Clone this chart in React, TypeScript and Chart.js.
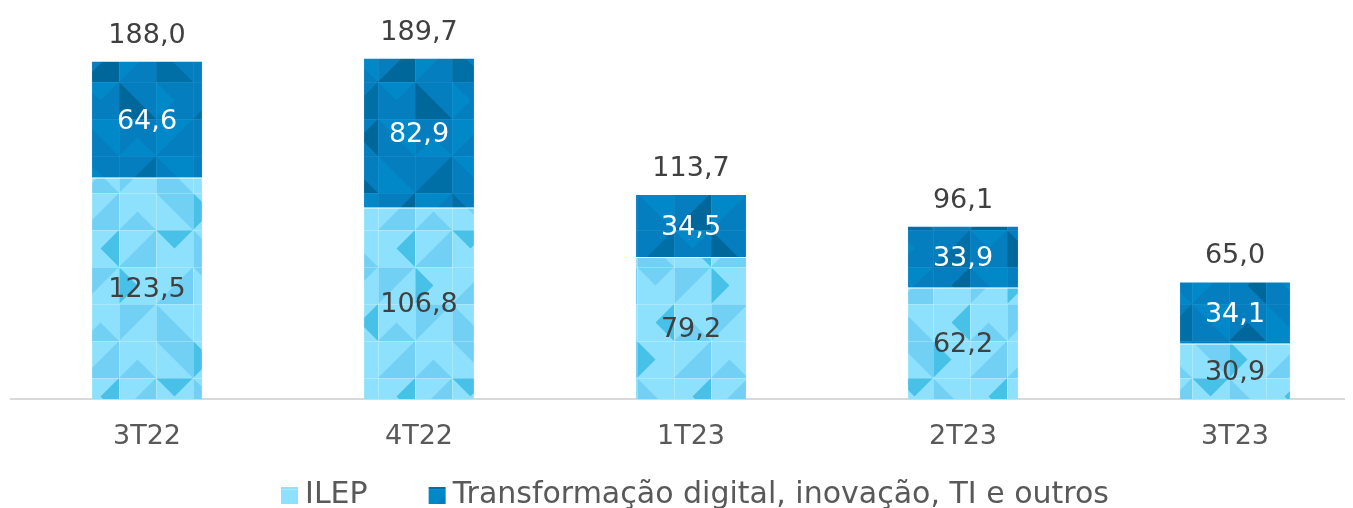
import React, { useEffect, useRef } from 'react';
import { Chart, registerables } from 'chart.js';

Chart.register(...registerables);

const categories = ['3T22', '4T22', '1T23', '2T23', '3T23'];
const ilepValues = [123.5, 106.8, 79.2, 62.2, 30.9];
const transfValues = [64.6, 82.9, 34.5, 33.9, 34.1];
const totalValues = [188.0, 189.7, 113.7, 96.1, 65.0];
const seriesNames = ['ILEP', 'Transformação digital, inovação, TI e outros'];

const FONT = '"DejaVu Sans", Verdana, sans-serif';

type Shape = [number, number, string, string];

const lightShapes: Shape[] = [
  [1, 0, 'r', '#47C1E8'], [2, 0, 'b', '#72D0F4'], [0, 0, 'bl', '#72D0F4'],
  [0, 1, 'tr', '#72D0F4'], [1, 1, 'l', '#47C1E8'], [2, 1, 'br', '#72D0F4'],
  [0, 2, 't', '#47C1E8'], [1, 2, 'bl', '#72D0F4'], [2, 2, 'r', '#47C1E8'],
  [3, 0, 'tl', '#72D0F4'], [3, 1, 'b', '#72D0F4'], [3, 2, 'br', '#72D0F4'],
  [0, 3, 'br', '#72D0F4'], [1, 3, 't', '#72D0F4'], [2, 3, 'tl', '#72D0F4'], [3, 3, 'l', '#47C1E8'],
];
const darkShapes: Shape[] = [
  [0, 0, 'tr', '#0088C8'], [1, 0, 'b', '#00679A'], [2, 0, 'bl', '#0088C8'],
  [0, 1, 'bl', '#006FA6'], [1, 1, 'tr', '#0088C8'], [2, 1, 'br', '#00679A'],
  [0, 2, 'l', '#0088C8'], [1, 2, 'br', '#006FA6'], [2, 2, 't', '#0088C8'],
  [3, 0, 'br', '#006FA6'], [3, 1, 'tl', '#0088C8'], [3, 2, 'bl', '#00679A'],
  [0, 3, 'tl', '#0088C8'], [1, 3, 'r', '#00679A'], [2, 3, 'tr', '#0088C8'], [3, 3, 'b', '#0088C8'],
];

function makePattern(ctx: CanvasRenderingContext2D, base: string, shapes: Shape[], grid: string) {
  const cell = 37;
  const n = 4;
  const c = document.createElement('canvas');
  c.width = cell * n;
  c.height = cell * n;
  const g = c.getContext('2d')!;
  g.fillStyle = base;
  g.fillRect(0, 0, c.width, c.height);
  for (const [col, row, shape, color] of shapes) {
    const x0 = col * cell, y0 = row * cell, x1 = x0 + cell, y1 = y0 + cell;
    const cx = x0 + cell / 2, cy = y0 + cell / 2;
    let pts: number[][] = [];
    switch (shape) {
      case 'tl': pts = [[x0, y0], [x1, y0], [x0, y1]]; break;
      case 'tr': pts = [[x0, y0], [x1, y0], [x1, y1]]; break;
      case 'bl': pts = [[x0, y0], [x0, y1], [x1, y1]]; break;
      case 'br': pts = [[x1, y0], [x1, y1], [x0, y1]]; break;
      case 't': pts = [[x0, y0], [x1, y0], [cx, cy]]; break;
      case 'b': pts = [[x0, y1], [x1, y1], [cx, cy]]; break;
      case 'l': pts = [[x0, y0], [x0, y1], [cx, cy]]; break;
      case 'r': pts = [[x1, y0], [x1, y1], [cx, cy]]; break;
    }
    g.fillStyle = color;
    g.beginPath();
    g.moveTo(pts[0][0], pts[0][1]);
    for (let i = 1; i < pts.length; i++) g.lineTo(pts[i][0], pts[i][1]);
    g.closePath();
    g.fill();
  }
  g.strokeStyle = grid;
  g.lineWidth = 1;
  for (let i = 0; i < n; i++) {
    g.beginPath();
    g.moveTo(i * cell + 0.5, 0);
    g.lineTo(i * cell + 0.5, c.height);
    g.moveTo(0, i * cell + 0.5);
    g.lineTo(c.width, i * cell + 0.5);
    g.stroke();
  }
  return ctx.createPattern(c, 'repeat')!;
}

const fmt = (v: number) => v.toFixed(1).replace('.', ',');

const labelsPlugin = {
  id: 'valueLabels',
  afterDatasetsDraw(chart: any) {
    const ctx = chart.ctx;
    ctx.save();
    ctx.font = `27px ${FONT}`;
    ctx.textAlign = 'center';
    ctx.textBaseline = 'middle';
    chart.data.datasets.forEach((ds: any, di: number) => {
      const meta = chart.getDatasetMeta(di);
      meta.data.forEach((bar: any, i: number) => {
        const top = Math.min(bar.y, bar.base);
        const bottom = Math.max(bar.y, bar.base);
        ctx.fillStyle = di === 0 ? '#404040' : '#FFFFFF';
        ctx.fillText(fmt(ds.data[i]), bar.x, (top + bottom) / 2 + 2);
      });
    });
    const topMeta = chart.getDatasetMeta(1);
    topMeta.data.forEach((bar: any, i: number) => {
      ctx.fillStyle = '#404040';
      ctx.fillText(fmt(totalValues[i]), bar.x, bar.y - 26);
    });
    ctx.restore();
  },
};

const legendPlugin = {
  id: 'customLegend',
  afterDraw(chart: any) {
    const ctx = chart.ctx;
    const ds = chart.data.datasets;
    ctx.save();
    ctx.font = `30px ${FONT}`;
    ctx.textBaseline = 'middle';
    ctx.textAlign = 'left';
    const box = 17;
    const gapBoxText = 7;
    const gapItems = 61;
    const widths = ds.map((d: any) => box + gapBoxText + ctx.measureText(d.label).width);
    const total = widths.reduce((a: number, b: number) => a + b, 0) + gapItems * (ds.length - 1);
    let x = (chart.chartArea.left + chart.chartArea.right) / 2 - total / 2 + 4;
    const y = 487.5;
    ds.forEach((d: any, i: number) => {
      ctx.fillStyle = d.backgroundColor;
      ctx.fillRect(x, y - box / 2, box, box);
      ctx.fillStyle = '#595959';
      ctx.fillText(d.label, x + box + gapBoxText, y);
      x += widths[i] + gapItems;
    });
    ctx.restore();
  },
};

export default function App() {
  const ref = useRef<HTMLCanvasElement>(null);
  useEffect(() => {
    const canvas = ref.current!;
    const ctx = canvas.getContext('2d')!;
    const lightPat = makePattern(ctx, '#8EE1FC', lightShapes, 'rgba(255,255,255,0.25)');
    const darkPat = makePattern(ctx, '#047EBF', darkShapes, 'rgba(255,255,255,0.06)');
    const chart = new Chart(canvas, {
      type: 'bar',
      data: {
        labels: categories,
        datasets: [
          {
            label: seriesNames[0], data: ilepValues, backgroundColor: lightPat as any,
            borderWidth: { top: 1, left: 0, right: 0, bottom: 0 }, borderColor: 'rgba(255,255,255,0.6)',
          },
          { label: seriesNames[1], data: transfValues, backgroundColor: darkPat as any, borderWidth: 0 },
        ],
      },
      options: {
        responsive: false,
        animation: false,
        devicePixelRatio: 1,
        layout: { padding: { left: 3, right: 9, top: 0, bottom: 0 } },
        datasets: { bar: { barPercentage: 1, categoryPercentage: 0.404 } },
        plugins: { legend: { display: false }, tooltip: { enabled: false }, title: { display: false } },
        scales: {
          x: {
            stacked: true,
            grid: { display: false, drawTicks: false },
            border: { display: true, color: '#D9D9D9', width: 2 },
            ticks: { color: '#595959', font: { family: FONT, size: 27 }, padding: 22, maxRotation: 0 },
            afterFit: (scale: any) => { scale.height = 109; },
          },
          y: { stacked: true, display: false, min: 0, max: 218 },
        },
      },
      plugins: [labelsPlugin, legendPlugin],
    });
    return () => chart.destroy();
  }, []);
  return (
    <div style={{ marginRight: -8, overflow: 'hidden', height: 500 }}>
      <canvas ref={ref} width={1372} height={500} style={{ display: 'block', width: 1372, height: 500 }} />
    </div>
  );
}
